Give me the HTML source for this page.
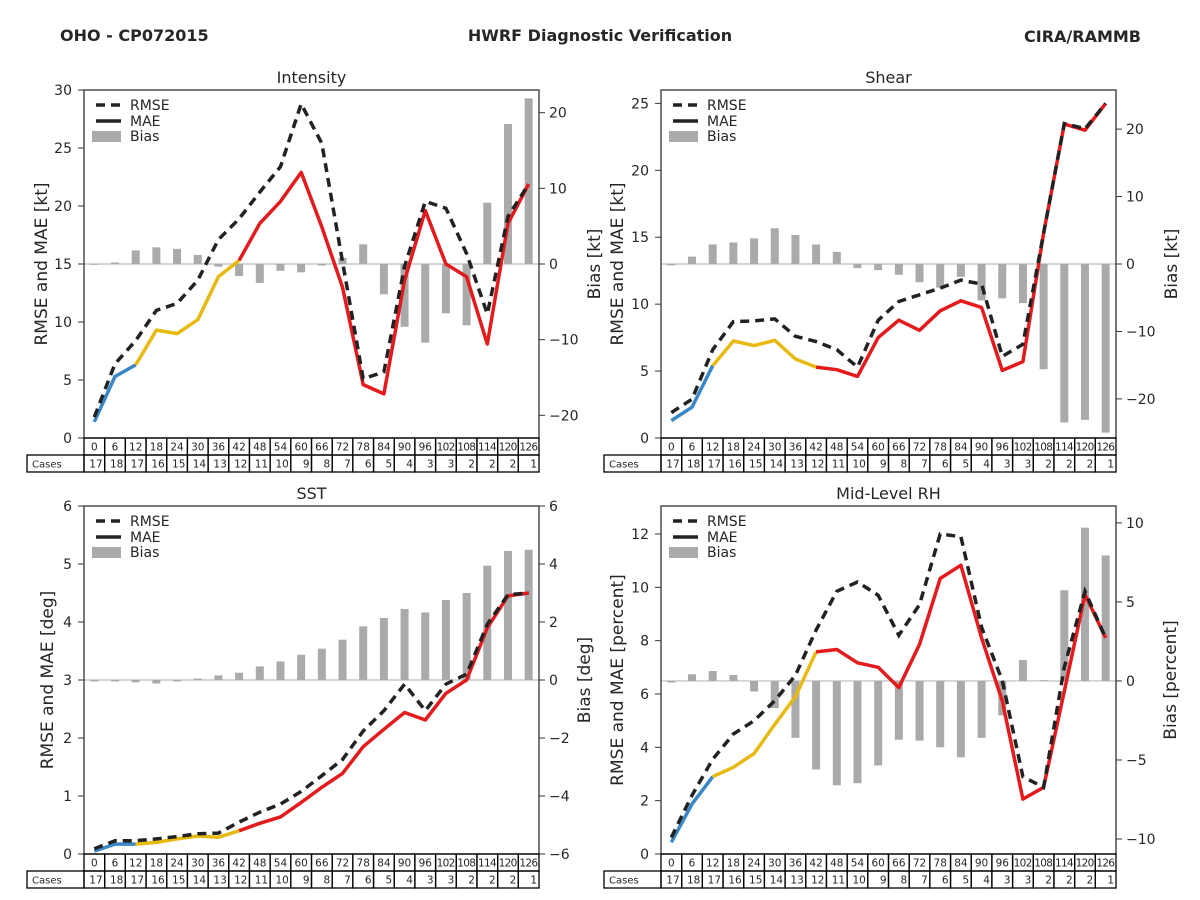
<!DOCTYPE html>
<html><head><meta charset="utf-8">
<style>
html,body{margin:0;padding:0;background:#fff;}
svg{display:block;font-family:"DejaVu Sans","Liberation Sans",sans-serif;}
</style></head>
<body>
<svg id="fig" width="1200" height="900" viewBox="0 0 1200 900" xmlns="http://www.w3.org/2000/svg">
<rect width="1200" height="900" fill="#fff"/>
<text x="60" y="41" font-size="16" font-weight="bold" fill="#262626">OHO - CP072015</text>
<text x="600" y="41" font-size="16" font-weight="bold" fill="#262626" text-anchor="middle">HWRF Diagnostic Verification</text>
<text x="1141" y="42" font-size="16" font-weight="bold" fill="#262626" text-anchor="end">CIRA/RAMMB</text>
</svg>
<script>
const leads=[0,6,12,18,24,30,36,42,48,54,60,66,72,78,84,90,96,102,108,114,120,126];
const cases=[17,18,17,16,15,14,13,12,11,10,9,8,7,6,5,4,3,3,2,2,2,1];

const intRmse=[1.8,6.4,8.4,11.0,11.6,13.6,17.1,18.9,21.2,23.4,28.8,25.4,15.2,5.1,5.7,14.8,20.4,19.8,15.9,10.7,19.1,21.9];
const intMae=[1.4,5.3,6.3,9.3,9.0,10.2,13.9,15.3,18.5,20.4,22.9,18.2,13.0,4.6,3.8,13.6,19.6,15.0,13.9,8.1,18.5,21.9];
const intBias=[0,0.2,1.8,2.2,2.0,1.2,-0.35,-1.6,-2.5,-0.9,-1.1,-0.2,0.8,2.6,-4.0,-8.3,-10.4,-6.5,-8.1,8.1,18.5,21.9];

const shrRmse=[1.9,2.9,6.6,8.7,8.75,8.9,7.6,7.2,6.6,5.3,8.8,10.2,10.7,11.2,11.8,11.5,6.1,7.0,15.3,23.5,23.1,25.0];
const shrMae=[1.3,2.3,5.4,7.25,6.9,7.3,5.9,5.3,5.1,4.6,7.5,8.8,8.05,9.5,10.25,9.75,5.05,5.7,15.3,23.45,23.0,25.0];
const shrBias=[-0.2,1.1,2.9,3.2,3.8,5.3,4.3,2.9,1.8,-0.6,-0.9,-1.6,-2.7,-3.5,-1.9,-5.4,-5.1,-5.8,-15.6,-23.5,-23.1,-25.0];

const sstRmse=[0.09,0.23,0.23,0.26,0.3,0.35,0.36,0.55,0.72,0.86,1.08,1.35,1.63,2.12,2.47,2.93,2.47,2.93,3.1,3.96,4.47,4.5];
const sstMae=[0.05,0.17,0.17,0.2,0.26,0.31,0.29,0.4,0.53,0.64,0.89,1.15,1.39,1.85,2.15,2.44,2.31,2.77,3.0,3.9,4.45,4.5];
const sstBias=[-0.05,-0.05,-0.08,-0.12,-0.05,0.05,0.16,0.25,0.47,0.64,0.87,1.08,1.39,1.85,2.14,2.45,2.33,2.76,3.0,3.94,4.45,4.49];

const rhRmse=[0.62,2.2,3.55,4.5,5.0,5.75,6.7,8.4,9.85,10.2,9.7,8.2,9.35,12.0,11.9,8.5,6.5,2.9,2.5,7.0,9.85,8.1];
const rhMae=[0.44,1.87,2.9,3.25,3.77,4.86,5.9,7.58,7.67,7.17,7.0,6.24,7.86,10.33,10.83,8.1,5.74,2.06,2.5,6.1,9.73,8.1];
const rhBias=[-0.1,0.42,0.63,0.38,-0.67,-1.72,-3.6,-5.6,-6.6,-6.47,-5.35,-3.72,-3.78,-4.2,-4.83,-3.6,-2.18,1.32,0.05,5.74,9.7,7.94];

const intLeftTicks=[0,5,10,15,20,25,30], intRightTicks=[-20,-10,0,10,20];
const shrLeftTicks=[0,5,10,15,20,25], shrRightTicks=[-20,-10,0,10,20];
const sstLeftTicks=[0,1,2,3,4,5,6], sstRightTicks=[-6,-4,-2,0,2,4,6];
const rhLeftTicks=[0,2,4,6,8,10,12], rhRightTicks=[-10,-5,0,5,10];

const NS="http://www.w3.org/2000/svg";
const svg=document.getElementById('fig');
function mk(tag,attrs,parent){const e=document.createElementNS(NS,tag);for(const k in attrs)e.setAttribute(k,attrs[k]);(parent||svg).appendChild(e);return e;}
function fmt(v){return v<0?'\u2212'+Math.abs(v):String(v);}

function panel(o){
  const g=mk('g',{});
  
  
  const L=o.x0,R=o.x0+455,T=o.y0,B=o.y0+348;
  const n=leads.length,cw=(R-L)/n;
  const xs=i=>L+cw*(i+0.5);
  const yl=v=>B-(v-o.lmin)/(o.lmax-o.lmin)*(B-T);
  const yr=v=>B-(v-o.rmin)/(o.rmax-o.rmin)*(B-T);
  // title
  const t=mk('text',{x:(L+R)/2,y:T-7,'font-size':16,'text-anchor':'middle',fill:'#262626'},g);t.textContent=o.title;
  
  
  // zero line
  const z=mk('line',{x1:L,x2:R,y1:yr(0),y2:yr(0),stroke:'#bbb','stroke-width':1.2},g);
  
  
  // bars
  o.bias.forEach((v,i)=>{
    const y1=yr(Math.max(v,0)),y2=yr(Math.min(v,0));
    const b=mk('rect',{x:xs(i)-4,y:y1,width:8,height:Math.max(y2-y1,0.8),fill:'#aaaaaa'},g);
    
    
  });
  // MAE segments
  const segs=[[0,2,'#3a87c8'],[2,7,'#e8b90f'],[7,n-1,'#e41a1c']];
  segs.forEach(s=>{
    let d='';for(let i=s[0];i<=s[1];i++)d+=(i==s[0]?'M':'L')+xs(i).toFixed(1)+','+yl(o.mae[i]).toFixed(1);
    const p=mk('path',{d:d,fill:'none',stroke:s[2],'stroke-width':3.5,'stroke-linejoin':'round'},g);
    
    
  });
  let d='';o.rmse.forEach((v,i)=>d+=(i?'L':'M')+xs(i).toFixed(1)+','+yl(v).toFixed(1));
  const rp=mk('path',{d:d,fill:'none',stroke:'#222','stroke-width':3.5,'stroke-dasharray':'9,6'},g);
  
  
  // frame
  const fr=mk('rect',{x:L,y:T,width:R-L,height:B-T,fill:'none',stroke:'#333','stroke-width':1.3},g);
  
  
  // left ticks
  o.lt.forEach(v=>{
    mk('line',{x1:L-6,x2:L,y1:yl(v),y2:yl(v),stroke:'#333','stroke-width':1},g);
    const tx=mk('text',{x:L-12,y:yl(v)+5,'font-size':14,'text-anchor':'end',fill:'#262626'},g);tx.textContent=fmt(v);
    
    
  });
  o.rt.forEach(v=>{
    mk('line',{x1:R,x2:R+6,y1:yr(v),y2:yr(v),stroke:'#333','stroke-width':1},g);
    const tx=mk('text',{x:R+10,y:yr(v)+5,'font-size':14,fill:'#262626'},g);tx.textContent=fmt(v);
    
    
  });
  // axis labels
  const cy=(T+B)/2;
  const al=mk('text',{x:0,y:0,'font-size':17,'text-anchor':'middle',fill:'#262626',transform:`translate(${o.lx},${cy}) rotate(-90)`},g);al.textContent=o.ll;
  
  
  const ar=mk('text',{x:0,y:0,'font-size':17,'text-anchor':'middle',fill:'#262626',transform:`translate(${o.rx},${cy}) rotate(-90)`},g);ar.textContent=o.rl;
  
  
  // legend
  const lg=mk('g',{},g);
  
  
  const lx=L+12,ly=T+15;
  mk('line',{x1:lx,x2:lx+25,y1:ly,y2:ly,stroke:'#222','stroke-width':3.5,'stroke-dasharray':'9,6'},lg);
  mk('line',{x1:lx,x2:lx+25,y1:ly+16,y2:ly+16,stroke:'#222','stroke-width':3.5},lg);
  mk('rect',{x:lx-4,y:ly+26,width:29,height:11,fill:'#aaaaaa'},lg);
  [['RMSE',0],['MAE',16],['Bias',31]].forEach(a=>{const tt=mk('text',{x:lx+34,y:ly+5+a[1],'font-size':14,fill:'#262626'},lg);tt.textContent=a[0];});
  // table
  const tb=mk('g',{},g);
  
  
  const r1=B,r2=B+17,r3=B+34;
  mk('rect',{x:L-57,y:r2,width:57,height:17,fill:'none',stroke:'#000','stroke-width':1.3},tb);
  const cl=mk('text',{x:L-52,y:r2+12.5,'font-size':10,fill:'#262626'},tb);cl.textContent='Cases';
  for(let i=0;i<n;i++){
    const cx=L+cw*i;
    mk('rect',{x:cx,y:r1,width:cw,height:17,fill:'none',stroke:'#000','stroke-width':1.3},tb);
    mk('rect',{x:cx,y:r2,width:cw,height:17,fill:'none',stroke:'#000','stroke-width':1.3},tb);
    const a=mk('text',{x:cx+cw/2,y:r1+12.5,'font-size':10.5,'text-anchor':'middle',fill:'#262626'},tb);a.textContent=leads[i];
    if(leads[i]>=100)a.setAttribute('textLength',cw-2);
    const b=mk('text',{x:cx+cw-2,y:r2+12.5,'font-size':10.5,'text-anchor':'end',fill:'#262626'},tb);b.textContent=cases[i];
  }
}

panel({key:'intensity',title:'Intensity',x0:84,y0:90,lmin:0,lmax:30,rmin:-23,rmax:23,rmse:intRmse,mae:intMae,bias:intBias,lt:intLeftTicks,rt:intRightTicks,ll:'RMSE and MAE [kt]',rl:'Bias [kt]',lx:47,rx:600});
panel({key:'shear',title:'Shear',x0:661,y0:90,lmin:0,lmax:26,rmin:-25.8,rmax:25.8,rmse:shrRmse,mae:shrMae,bias:shrBias,lt:shrLeftTicks,rt:shrRightTicks,ll:'RMSE and MAE [kt]',rl:'Bias [kt]',lx:623,rx:1177});
panel({key:'sst',title:'SST',x0:84,y0:506,lmin:0,lmax:6,rmin:-6,rmax:6,rmse:sstRmse,mae:sstMae,bias:sstBias,lt:sstLeftTicks,rt:sstRightTicks,ll:'RMSE and MAE [deg]',rl:'Bias [deg]',lx:53,rx:590});
panel({key:'rh',title:'Mid-Level RH',x0:661,y0:506,lmin:0,lmax:13.05,rmin:-10.95,rmax:11.07,rmse:rhRmse,mae:rhMae,bias:rhBias,lt:rhLeftTicks,rt:rhRightTicks,ll:'RMSE and MAE [percent]',rl:'Bias [percent]',lx:623,rx:1176});
</script>
</body></html>
